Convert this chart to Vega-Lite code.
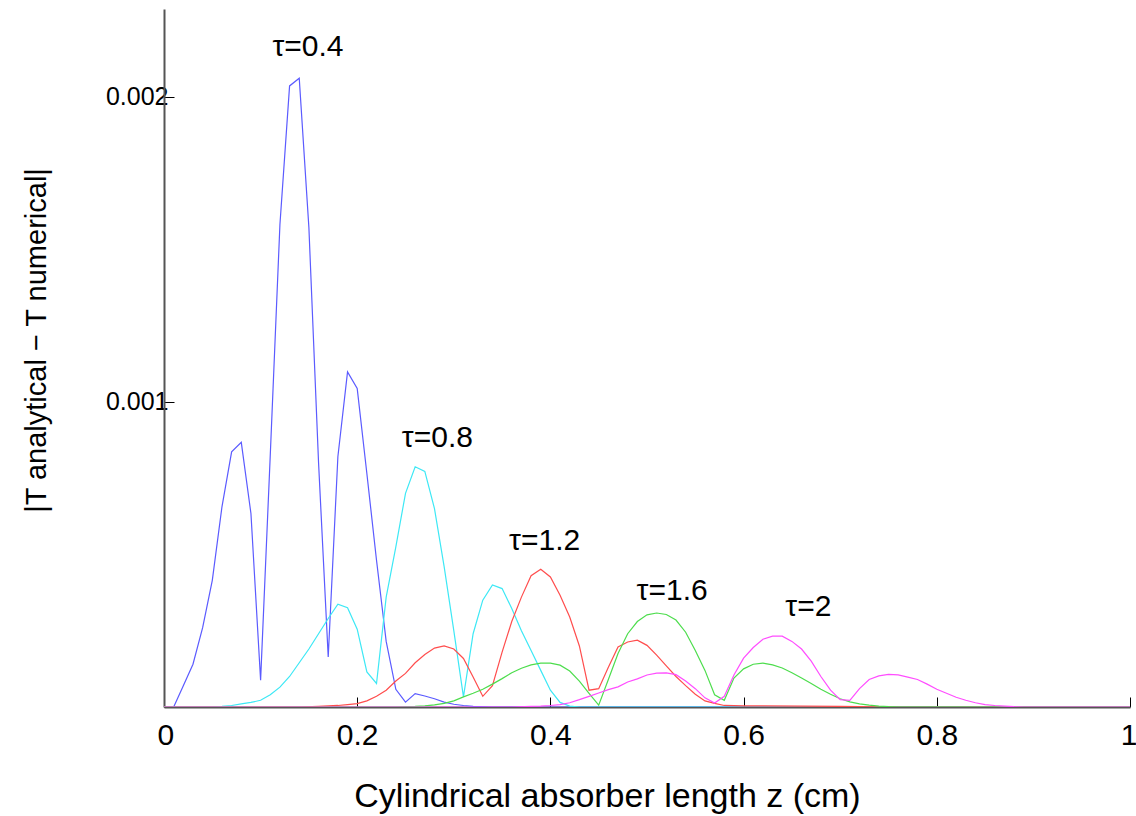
{
  "$schema": "https://vega.github.io/schema/vega-lite/v6.json",
  "width": 966,
  "height": 698,
  "autosize": {"type": "none"},
  "padding": {"left": 164, "top": 9, "right": 6, "bottom": 109},
  "background": "white",
  "config": {
    "view": {"stroke": null},
    "font": "Liberation Sans"
  },
  "datasets": {
    "curves": [
      {"tau": "τ=0.4", "z": 0.00, "err": 0},
      {"tau": "τ=0.4", "z": 0.01, "err": 0},
      {"tau": "τ=0.4", "z": 0.02, "err": 0.00007},
      {"tau": "τ=0.4", "z": 0.03, "err": 0.00014},
      {"tau": "τ=0.4", "z": 0.04, "err": 0.00026},
      {"tau": "τ=0.4", "z": 0.05, "err": 0.000415},
      {"tau": "τ=0.4", "z": 0.06, "err": 0.000656},
      {"tau": "τ=0.4", "z": 0.07, "err": 0.000836},
      {"tau": "τ=0.4", "z": 0.08, "err": 0.000867},
      {"tau": "τ=0.4", "z": 0.09, "err": 0.000634},
      {"tau": "τ=0.4", "z": 0.10, "err": 0.000088},
      {"tau": "τ=0.4", "z": 0.11, "err": 0.000825},
      {"tau": "τ=0.4", "z": 0.12, "err": 0.00158},
      {"tau": "τ=0.4", "z": 0.13, "err": 0.002035},
      {"tau": "τ=0.4", "z": 0.14, "err": 0.00206},
      {"tau": "τ=0.4", "z": 0.15, "err": 0.00157},
      {"tau": "τ=0.4", "z": 0.16, "err": 0.0008},
      {"tau": "τ=0.4", "z": 0.17, "err": 0.000164},
      {"tau": "τ=0.4", "z": 0.18, "err": 0.00082},
      {"tau": "τ=0.4", "z": 0.19, "err": 0.001098},
      {"tau": "τ=0.4", "z": 0.20, "err": 0.001044},
      {"tau": "τ=0.4", "z": 0.21, "err": 0.000765},
      {"tau": "τ=0.4", "z": 0.22, "err": 0.000481},
      {"tau": "τ=0.4", "z": 0.23, "err": 0.000215},
      {"tau": "τ=0.4", "z": 0.24, "err": 0.000058},
      {"tau": "τ=0.4", "z": 0.25, "err": 0.000016},
      {"tau": "τ=0.4", "z": 0.26, "err": 0.000044},
      {"tau": "τ=0.4", "z": 0.27, "err": 0.000036},
      {"tau": "τ=0.4", "z": 0.28, "err": 0.000027},
      {"tau": "τ=0.4", "z": 0.29, "err": 0.000016},
      {"tau": "τ=0.4", "z": 0.30, "err": 0.000009},
      {"tau": "τ=0.4", "z": 0.31, "err": 0.000005},
      {"tau": "τ=0.4", "z": 0.32, "err": 0.000002},
      {"tau": "τ=0.4", "z": 0.34, "err": 0},
      {"tau": "τ=0.4", "z": 1.00, "err": 0},

      {"tau": "τ=0.8", "z": 0.00, "err": 0},
      {"tau": "τ=0.8", "z": 0.05, "err": 0},
      {"tau": "τ=0.8", "z": 0.06, "err": 0.000002},
      {"tau": "τ=0.8", "z": 0.07, "err": 0.000005},
      {"tau": "τ=0.8", "z": 0.08, "err": 0.00001},
      {"tau": "τ=0.8", "z": 0.09, "err": 0.000015},
      {"tau": "τ=0.8", "z": 0.10, "err": 0.000022},
      {"tau": "τ=0.8", "z": 0.11, "err": 0.00004},
      {"tau": "τ=0.8", "z": 0.12, "err": 0.000065},
      {"tau": "τ=0.8", "z": 0.13, "err": 0.0001},
      {"tau": "τ=0.8", "z": 0.14, "err": 0.000145},
      {"tau": "τ=0.8", "z": 0.15, "err": 0.00019},
      {"tau": "τ=0.8", "z": 0.16, "err": 0.00024},
      {"tau": "τ=0.8", "z": 0.17, "err": 0.00029},
      {"tau": "τ=0.8", "z": 0.18, "err": 0.000337},
      {"tau": "τ=0.8", "z": 0.19, "err": 0.000325},
      {"tau": "τ=0.8", "z": 0.20, "err": 0.000255},
      {"tau": "τ=0.8", "z": 0.21, "err": 0.000115},
      {"tau": "τ=0.8", "z": 0.22, "err": 0.000077},
      {"tau": "τ=0.8", "z": 0.23, "err": 0.00036},
      {"tau": "τ=0.8", "z": 0.24, "err": 0.000525},
      {"tau": "τ=0.8", "z": 0.25, "err": 0.0007},
      {"tau": "τ=0.8", "z": 0.26, "err": 0.000787},
      {"tau": "τ=0.8", "z": 0.27, "err": 0.000772},
      {"tau": "τ=0.8", "z": 0.28, "err": 0.00065},
      {"tau": "τ=0.8", "z": 0.29, "err": 0.00046},
      {"tau": "τ=0.8", "z": 0.30, "err": 0.00025},
      {"tau": "τ=0.8", "z": 0.31, "err": 0.000033},
      {"tau": "τ=0.8", "z": 0.32, "err": 0.00024},
      {"tau": "τ=0.8", "z": 0.33, "err": 0.00035},
      {"tau": "τ=0.8", "z": 0.34, "err": 0.0004},
      {"tau": "τ=0.8", "z": 0.35, "err": 0.000388},
      {"tau": "τ=0.8", "z": 0.36, "err": 0.000323},
      {"tau": "τ=0.8", "z": 0.37, "err": 0.00025},
      {"tau": "τ=0.8", "z": 0.38, "err": 0.000185},
      {"tau": "τ=0.8", "z": 0.39, "err": 0.00012},
      {"tau": "τ=0.8", "z": 0.40, "err": 0.000055},
      {"tau": "τ=0.8", "z": 0.41, "err": 0.000015},
      {"tau": "τ=0.8", "z": 0.42, "err": 0.000003},
      {"tau": "τ=0.8", "z": 0.43, "err": 0},
      {"tau": "τ=0.8", "z": 1.00, "err": 0},

      {"tau": "τ=1.2", "z": 0.00, "err": 0},
      {"tau": "τ=1.2", "z": 0.14, "err": 0},
      {"tau": "τ=1.2", "z": 0.16, "err": 0.000002},
      {"tau": "τ=1.2", "z": 0.18, "err": 0.000005},
      {"tau": "τ=1.2", "z": 0.19, "err": 0.000008},
      {"tau": "τ=1.2", "z": 0.20, "err": 0.000011},
      {"tau": "τ=1.2", "z": 0.21, "err": 0.00002},
      {"tau": "τ=1.2", "z": 0.22, "err": 0.000035},
      {"tau": "τ=1.2", "z": 0.23, "err": 0.000055},
      {"tau": "τ=1.2", "z": 0.24, "err": 0.000085},
      {"tau": "τ=1.2", "z": 0.25, "err": 0.00011},
      {"tau": "τ=1.2", "z": 0.26, "err": 0.000145},
      {"tau": "τ=1.2", "z": 0.27, "err": 0.000172},
      {"tau": "τ=1.2", "z": 0.28, "err": 0.000193},
      {"tau": "τ=1.2", "z": 0.29, "err": 0.0002},
      {"tau": "τ=1.2", "z": 0.30, "err": 0.00019},
      {"tau": "τ=1.2", "z": 0.31, "err": 0.000159},
      {"tau": "τ=1.2", "z": 0.32, "err": 0.000098},
      {"tau": "τ=1.2", "z": 0.33, "err": 0.000035},
      {"tau": "τ=1.2", "z": 0.34, "err": 0.00007},
      {"tau": "τ=1.2", "z": 0.35, "err": 0.00018},
      {"tau": "τ=1.2", "z": 0.36, "err": 0.00028},
      {"tau": "τ=1.2", "z": 0.37, "err": 0.00036},
      {"tau": "τ=1.2", "z": 0.38, "err": 0.00043},
      {"tau": "τ=1.2", "z": 0.39, "err": 0.000451},
      {"tau": "τ=1.2", "z": 0.40, "err": 0.000426},
      {"tau": "τ=1.2", "z": 0.41, "err": 0.000366},
      {"tau": "τ=1.2", "z": 0.42, "err": 0.000295},
      {"tau": "τ=1.2", "z": 0.43, "err": 0.0002},
      {"tau": "τ=1.2", "z": 0.44, "err": 0.000055},
      {"tau": "τ=1.2", "z": 0.45, "err": 0.00006},
      {"tau": "τ=1.2", "z": 0.46, "err": 0.00013},
      {"tau": "τ=1.2", "z": 0.47, "err": 0.000197},
      {"tau": "τ=1.2", "z": 0.48, "err": 0.000213},
      {"tau": "τ=1.2", "z": 0.49, "err": 0.000219},
      {"tau": "τ=1.2", "z": 0.50, "err": 0.000202},
      {"tau": "τ=1.2", "z": 0.51, "err": 0.00017},
      {"tau": "τ=1.2", "z": 0.52, "err": 0.000135},
      {"tau": "τ=1.2", "z": 0.53, "err": 0.0001},
      {"tau": "τ=1.2", "z": 0.54, "err": 0.00007},
      {"tau": "τ=1.2", "z": 0.55, "err": 0.000042},
      {"tau": "τ=1.2", "z": 0.56, "err": 0.00002},
      {"tau": "τ=1.2", "z": 0.57, "err": 0.000012},
      {"tau": "τ=1.2", "z": 0.58, "err": 0.000005},
      {"tau": "τ=1.2", "z": 0.60, "err": 0.000004},
      {"tau": "τ=1.2", "z": 0.70, "err": 0.000002},
      {"tau": "τ=1.2", "z": 0.76, "err": 0},
      {"tau": "τ=1.2", "z": 1.00, "err": 0},

      {"tau": "τ=1.6", "z": 0.00, "err": 0},
      {"tau": "τ=1.6", "z": 0.24, "err": 0},
      {"tau": "τ=1.6", "z": 0.26, "err": 0.000002},
      {"tau": "τ=1.6", "z": 0.27, "err": 0.000004},
      {"tau": "τ=1.6", "z": 0.28, "err": 0.000007},
      {"tau": "τ=1.6", "z": 0.29, "err": 0.000012},
      {"tau": "τ=1.6", "z": 0.30, "err": 0.00002},
      {"tau": "τ=1.6", "z": 0.31, "err": 0.000033},
      {"tau": "τ=1.6", "z": 0.32, "err": 0.000045},
      {"tau": "τ=1.6", "z": 0.33, "err": 0.000058},
      {"tau": "τ=1.6", "z": 0.34, "err": 0.000075},
      {"tau": "τ=1.6", "z": 0.35, "err": 0.000093},
      {"tau": "τ=1.6", "z": 0.36, "err": 0.000112},
      {"tau": "τ=1.6", "z": 0.37, "err": 0.000127},
      {"tau": "τ=1.6", "z": 0.38, "err": 0.000138},
      {"tau": "τ=1.6", "z": 0.39, "err": 0.000144},
      {"tau": "τ=1.6", "z": 0.40, "err": 0.000144},
      {"tau": "τ=1.6", "z": 0.41, "err": 0.000137},
      {"tau": "τ=1.6", "z": 0.42, "err": 0.000118},
      {"tau": "τ=1.6", "z": 0.43, "err": 0.000085},
      {"tau": "τ=1.6", "z": 0.44, "err": 0.000045},
      {"tau": "τ=1.6", "z": 0.45, "err": 0.000006},
      {"tau": "τ=1.6", "z": 0.46, "err": 0.00009},
      {"tau": "τ=1.6", "z": 0.47, "err": 0.000175},
      {"tau": "τ=1.6", "z": 0.48, "err": 0.00024},
      {"tau": "τ=1.6", "z": 0.49, "err": 0.00028},
      {"tau": "τ=1.6", "z": 0.50, "err": 0.000302},
      {"tau": "τ=1.6", "z": 0.51, "err": 0.000308},
      {"tau": "τ=1.6", "z": 0.52, "err": 0.000303},
      {"tau": "τ=1.6", "z": 0.53, "err": 0.000285},
      {"tau": "τ=1.6", "z": 0.54, "err": 0.000245},
      {"tau": "τ=1.6", "z": 0.55, "err": 0.000185},
      {"tau": "τ=1.6", "z": 0.56, "err": 0.00012},
      {"tau": "τ=1.6", "z": 0.57, "err": 0.00004},
      {"tau": "τ=1.6", "z": 0.58, "err": 0.000022},
      {"tau": "τ=1.6", "z": 0.59, "err": 0.000095},
      {"tau": "τ=1.6", "z": 0.60, "err": 0.000125},
      {"tau": "τ=1.6", "z": 0.61, "err": 0.00014},
      {"tau": "τ=1.6", "z": 0.62, "err": 0.000144},
      {"tau": "τ=1.6", "z": 0.63, "err": 0.000138},
      {"tau": "τ=1.6", "z": 0.64, "err": 0.000128},
      {"tau": "τ=1.6", "z": 0.65, "err": 0.000112},
      {"tau": "τ=1.6", "z": 0.66, "err": 0.000095},
      {"tau": "τ=1.6", "z": 0.67, "err": 0.000077},
      {"tau": "τ=1.6", "z": 0.68, "err": 0.000058},
      {"tau": "τ=1.6", "z": 0.69, "err": 0.000042},
      {"tau": "τ=1.6", "z": 0.70, "err": 0.000027},
      {"tau": "τ=1.6", "z": 0.71, "err": 0.000017},
      {"tau": "τ=1.6", "z": 0.72, "err": 0.00001},
      {"tau": "τ=1.6", "z": 0.73, "err": 0.000006},
      {"tau": "τ=1.6", "z": 0.74, "err": 0.000003},
      {"tau": "τ=1.6", "z": 0.75, "err": 0.000001},
      {"tau": "τ=1.6", "z": 0.76, "err": 0},
      {"tau": "τ=1.6", "z": 1.00, "err": 0},

      {"tau": "τ=2", "z": 0.00, "err": 0},
      {"tau": "τ=2", "z": 0.36, "err": 0},
      {"tau": "τ=2", "z": 0.38, "err": 0.000002},
      {"tau": "τ=2", "z": 0.39, "err": 0.000003},
      {"tau": "τ=2", "z": 0.40, "err": 0.000005},
      {"tau": "τ=2", "z": 0.41, "err": 0.000008},
      {"tau": "τ=2", "z": 0.42, "err": 0.000014},
      {"tau": "τ=2", "z": 0.43, "err": 0.000024},
      {"tau": "τ=2", "z": 0.44, "err": 0.000035},
      {"tau": "τ=2", "z": 0.45, "err": 0.000046},
      {"tau": "τ=2", "z": 0.46, "err": 0.000057},
      {"tau": "τ=2", "z": 0.47, "err": 0.000066},
      {"tau": "τ=2", "z": 0.48, "err": 0.000082},
      {"tau": "τ=2", "z": 0.49, "err": 0.000092},
      {"tau": "τ=2", "z": 0.50, "err": 0.000105},
      {"tau": "τ=2", "z": 0.51, "err": 0.000111},
      {"tau": "τ=2", "z": 0.52, "err": 0.000112},
      {"tau": "τ=2", "z": 0.53, "err": 0.000106},
      {"tau": "τ=2", "z": 0.54, "err": 0.000085},
      {"tau": "τ=2", "z": 0.55, "err": 0.00006},
      {"tau": "τ=2", "z": 0.56, "err": 0.00003},
      {"tau": "τ=2", "z": 0.57, "err": 0.000013},
      {"tau": "τ=2", "z": 0.58, "err": 0.000035},
      {"tau": "τ=2", "z": 0.59, "err": 0.000105},
      {"tau": "τ=2", "z": 0.60, "err": 0.00016},
      {"tau": "τ=2", "z": 0.61, "err": 0.000195},
      {"tau": "τ=2", "z": 0.62, "err": 0.000222},
      {"tau": "τ=2", "z": 0.63, "err": 0.000232},
      {"tau": "τ=2", "z": 0.64, "err": 0.000232},
      {"tau": "τ=2", "z": 0.65, "err": 0.000215},
      {"tau": "τ=2", "z": 0.66, "err": 0.00019},
      {"tau": "τ=2", "z": 0.67, "err": 0.00015},
      {"tau": "τ=2", "z": 0.68, "err": 0.0001},
      {"tau": "τ=2", "z": 0.69, "err": 0.000055},
      {"tau": "τ=2", "z": 0.70, "err": 0.000024},
      {"tau": "τ=2", "z": 0.71, "err": 0.000022},
      {"tau": "τ=2", "z": 0.72, "err": 0.00006},
      {"tau": "τ=2", "z": 0.73, "err": 0.00009},
      {"tau": "τ=2", "z": 0.74, "err": 0.000102},
      {"tau": "τ=2", "z": 0.75, "err": 0.000107},
      {"tau": "τ=2", "z": 0.76, "err": 0.000105},
      {"tau": "τ=2", "z": 0.77, "err": 0.000098},
      {"tau": "τ=2", "z": 0.78, "err": 0.00009},
      {"tau": "τ=2", "z": 0.79, "err": 0.000075},
      {"tau": "τ=2", "z": 0.80, "err": 0.000058},
      {"tau": "τ=2", "z": 0.81, "err": 0.000045},
      {"tau": "τ=2", "z": 0.82, "err": 0.000032},
      {"tau": "τ=2", "z": 0.83, "err": 0.000022},
      {"tau": "τ=2", "z": 0.84, "err": 0.000014},
      {"tau": "τ=2", "z": 0.85, "err": 0.000008},
      {"tau": "τ=2", "z": 0.86, "err": 0.000005},
      {"tau": "τ=2", "z": 0.87, "err": 0.000003},
      {"tau": "τ=2", "z": 0.88, "err": 0.000001},
      {"tau": "τ=2", "z": 0.89, "err": 0},
      {"tau": "τ=2", "z": 1.00, "err": 0}
    ],
    "labels": [
      {"text": "τ=0.4", "z": 0.149, "err": 0.002163},
      {"text": "τ=0.8", "z": 0.283, "err": 0.000881},
      {"text": "τ=1.2", "z": 0.394, "err": 0.000543},
      {"text": "τ=1.6", "z": 0.526, "err": 0.000379},
      {"text": "τ=2", "z": 0.667, "err": 0.000327}
    ]
  },
  "layer": [
    {
      "data": {"name": "curves"},
      "mark": {"type": "line", "strokeWidth": 1.2, "clip": true},
      "encoding": {
        "x": {
          "field": "z", "type": "quantitative",
          "scale": {"domain": [0, 1], "nice": false},
          "axis": {
            "title": "Cylindrical absorber length z (cm)",
            "values": [0, 0.2, 0.4, 0.6, 0.8, 1],
            "format": "~g",
            "grid": false,
            "domainColor": "#555555",
            "domainWidth": 2,
            "tickColor": "#000000",
            "tickSize": -10,
            "tickWidth": 1,
            "labelFontSize": 30,
            "labelColor": "#000000",
            "labelPadding": 23,
            "labelFlush": true,
            "labelFlushOffset": 7,
            "labelFont": "Liberation Sans",
            "titleFont": "Liberation Sans",
            "titleFontSize": 34,
            "titleFontWeight": "normal",
            "titleColor": "#000000",
            "titlePadding": 29,
            "titleX": 443
          }
        },
        "y": {
          "field": "err", "type": "quantitative",
          "scale": {"domain": [0, 0.002287], "nice": false, "zero": true},
          "axis": {
            "title": "|T analytical − T numerical|",
            "values": [0.001, 0.002],
            "format": ".3f",
            "grid": false,
            "domainColor": "#555555",
            "domainWidth": 2,
            "tickColor": "#000000",
            "tickSize": -10,
            "tickWidth": 1,
            "labelFontSize": 25,
            "labelColor": "#000000",
            "labelPadding": 6,
            "labelFont": "Liberation Sans",
            "titleFont": "Liberation Sans",
            "titleFontSize": 29,
            "titleFontWeight": "normal",
            "titleColor": "#000000",
            "titlePadding": 54,
            "titleY": 331
          }
        },
        "color": {
          "field": "tau", "type": "nominal",
          "scale": {
            "domain": ["τ=0.4", "τ=0.8", "τ=1.2", "τ=1.6", "τ=2"],
            "range": ["#5b5bff", "#3de8f5", "#ff4d4d", "#4ddd4d", "#ff4dff"]
          },
          "legend": null
        }
      }
    },
    {
      "data": {"name": "labels"},
      "mark": {"type": "text", "fontSize": 30, "font": "Liberation Sans", "align": "center", "baseline": "middle", "color": "#000000"},
      "encoding": {
        "x": {"field": "z", "type": "quantitative"},
        "y": {"field": "err", "type": "quantitative"},
        "text": {"field": "text"}
      }
    }
  ]
}
